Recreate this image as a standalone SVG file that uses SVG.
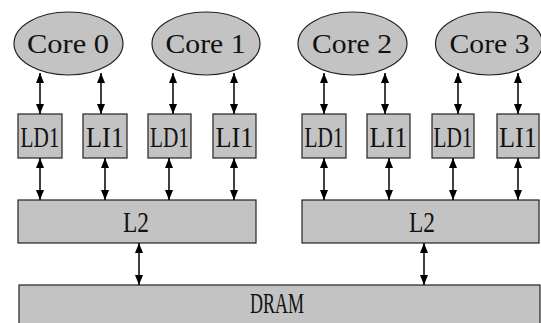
<svg xmlns="http://www.w3.org/2000/svg" width="541" height="323" viewBox="0 0 541 323">
<defs>
<marker id="ah" viewBox="0 0 10 8" refX="10" refY="4" markerWidth="11" markerHeight="8" markerUnits="userSpaceOnUse" orient="auto-start-reverse">
<path d="M0,0 L10,4 L0,8 Z" fill="#000"/>
</marker>
<style>
.n{fill:#c3c3c3;stroke:#222;stroke-width:1.2}
.t{font-family:"Liberation Serif","Noto Sans CJK SC",serif;fill:#111;text-anchor:middle}
.c{font-size:27px}
.b{font-size:30px}
.e line{stroke:#000;stroke-width:1.5;marker-start:url(#ah);marker-end:url(#ah)}
</style>
</defs>
<rect width="541" height="323" fill="#fff"/>
<g id="core0"><ellipse class="n" cx="68.5" cy="43.5" rx="54.5" ry="31.5"/><text class="t c" x="68" y="52.5" textLength="82" lengthAdjust="spacingAndGlyphs">Core 0</text></g>
<g id="core1"><ellipse class="n" cx="206" cy="43.5" rx="54" ry="31.5"/><text class="t c" x="205.5" y="52.5" textLength="80" lengthAdjust="spacingAndGlyphs">Core 1</text></g>
<g id="core2"><ellipse class="n" cx="352.5" cy="43.5" rx="54.5" ry="31.5"/><text class="t c" x="352" y="52.5" textLength="80" lengthAdjust="spacingAndGlyphs">Core 2</text></g>
<g id="core3"><ellipse class="n" cx="489" cy="43.5" rx="53.5" ry="31.5"/><text class="t c" x="489.5" y="52.5" textLength="80" lengthAdjust="spacingAndGlyphs">Core 3</text></g>
<g id="ld1a"><rect class="n" x="18" y="114" width="44" height="44"/><text class="t b" x="40" y="146.5" textLength="39" lengthAdjust="spacingAndGlyphs">LD1</text></g>
<g id="li1a"><rect class="n" x="83" y="114" width="44" height="44"/><text class="t b" x="105" y="146.5" textLength="38" lengthAdjust="spacingAndGlyphs">LI1</text></g>
<g id="ld1b"><rect class="n" x="148" y="114" width="43" height="44"/><text class="t b" x="169.5" y="146.5" textLength="39" lengthAdjust="spacingAndGlyphs">LD1</text></g>
<g id="li1b"><rect class="n" x="213" y="114" width="43" height="44"/><text class="t b" x="234.5" y="146.5" textLength="38" lengthAdjust="spacingAndGlyphs">LI1</text></g>
<g id="ld1c"><rect class="n" x="302" y="114" width="44" height="44"/><text class="t b" x="324" y="146.5" textLength="39" lengthAdjust="spacingAndGlyphs">LD1</text></g>
<g id="li1c"><rect class="n" x="367" y="114" width="43" height="44"/><text class="t b" x="388.5" y="146.5" textLength="38" lengthAdjust="spacingAndGlyphs">LI1</text></g>
<g id="ld1d"><rect class="n" x="432" y="114" width="42" height="44"/><text class="t b" x="453" y="146.5" textLength="39" lengthAdjust="spacingAndGlyphs">LD1</text></g>
<g id="li1d"><rect class="n" x="497" y="114" width="42" height="44"/><text class="t b" x="518" y="146.5" textLength="38" lengthAdjust="spacingAndGlyphs">LI1</text></g>
<g id="l2a"><rect class="n" x="18" y="200" width="238" height="43"/><text class="t b" x="136" y="232" textLength="26" lengthAdjust="spacingAndGlyphs">L2</text></g>
<g id="l2b"><rect class="n" x="302" y="200" width="237" height="43"/><text class="t b" x="422" y="232" textLength="26" lengthAdjust="spacingAndGlyphs">L2</text></g>
<g id="dram"><rect class="n" x="19" y="285" width="521" height="50"/><text class="t b" x="277" y="313" textLength="54" lengthAdjust="spacingAndGlyphs">DRAM</text></g>
<g id="edges" class="e">
<line x1="40" y1="73" x2="40" y2="114"/>
<line x1="101" y1="73" x2="101" y2="114"/>
<line x1="173" y1="73" x2="173" y2="114"/>
<line x1="234" y1="73" x2="234" y2="114"/>
<line x1="324" y1="73" x2="324" y2="114"/>
<line x1="385" y1="73" x2="385" y2="114"/>
<line x1="458" y1="73" x2="458" y2="114"/>
<line x1="518" y1="73" x2="518" y2="114"/>
<line x1="40" y1="158" x2="40" y2="200"/>
<line x1="105" y1="158" x2="105" y2="200"/>
<line x1="169" y1="158" x2="169" y2="200"/>
<line x1="234" y1="158" x2="234" y2="200"/>
<line x1="324" y1="158" x2="324" y2="200"/>
<line x1="389" y1="158" x2="389" y2="200"/>
<line x1="453" y1="158" x2="453" y2="200"/>
<line x1="518" y1="158" x2="518" y2="200"/>
<line x1="139" y1="243" x2="139" y2="285"/>
<line x1="424" y1="243" x2="424" y2="285"/>
</g>
</svg>
